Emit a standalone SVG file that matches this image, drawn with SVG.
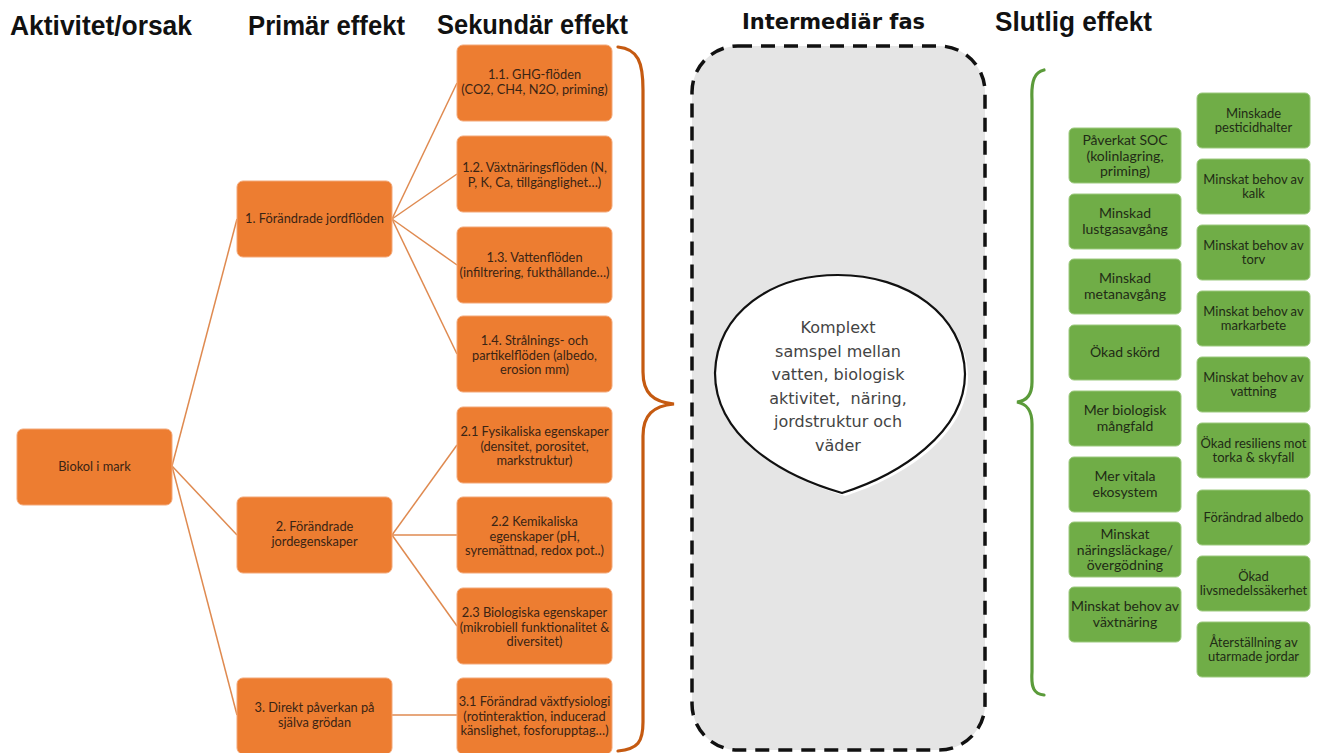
<svg xmlns="http://www.w3.org/2000/svg" width="1321" height="753" viewBox="0 0 1321 753">
  <style>
    .head { font-family: "Liberation Sans", Arial, sans-serif; font-weight: bold; font-size: 27px; fill: #111; }
    .head2 { font-family: "DejaVu Sans", Verdana, sans-serif; font-weight: bold; font-size: 21px; fill: #111; }
    .ob { fill: #ed7d31; stroke: #f3a878; stroke-width: 1; }
    .gb { fill: #70ad47; stroke: #9cc97e; stroke-width: 1; }
    .ot { font-family: Lato, "Open Sans", sans-serif; font-size: 12.8px; fill: #3a2414; text-anchor: middle; }
    .gt { font-family: Lato, "Open Sans", sans-serif; font-size: 14px; fill: #1f2b16; text-anchor: middle; }
    .gt2 { font-family: Lato, "Open Sans", sans-serif; font-size: 13px; fill: #1f2b16; text-anchor: middle; }
    .conn line { stroke: #df8a50; stroke-width: 1.5; }
    .ct { font-family: "DejaVu Sans", Verdana, sans-serif; font-size: 16px; fill: #444; text-anchor: middle; }
  </style>

  <rect width="1321" height="753" fill="#ffffff"/>

  <!-- column headings -->
  <g id="headings">
    <text class="head" x="10" y="35" textLength="182" lengthAdjust="spacingAndGlyphs">Aktivitet/orsak</text>
    <text class="head" x="248" y="35" textLength="157" lengthAdjust="spacingAndGlyphs">Primär effekt</text>
    <text class="head" x="437" y="34" textLength="191" lengthAdjust="spacingAndGlyphs">Sekundär effekt</text>
    <text class="head2" x="742" y="29" textLength="183" lengthAdjust="spacingAndGlyphs">Intermediär fas</text>
    <text class="head" x="995" y="31" textLength="157" lengthAdjust="spacingAndGlyphs">Slutlig effekt</text>
  </g>

  <!-- connectors -->
  <g id="connectors" class="conn">
    <line x1="172" y1="466" x2="237" y2="219"/>
    <line x1="172" y1="466" x2="237" y2="535"/>
    <line x1="172" y1="466" x2="237" y2="715"/>
    <line x1="392" y1="219" x2="457" y2="83"/>
    <line x1="392" y1="219" x2="457" y2="174"/>
    <line x1="392" y1="219" x2="457" y2="265"/>
    <line x1="392" y1="219" x2="457" y2="354"/>
    <line x1="392" y1="535" x2="457" y2="445"/>
    <line x1="392" y1="535" x2="457" y2="535"/>
    <line x1="392" y1="535" x2="457" y2="626"/>
    <line x1="392" y1="715" x2="457" y2="715"/>
  </g>

  <!-- cause -->
  <g id="biokol">
    <rect class="ob" x="17" y="429" width="155" height="76" rx="6"/>
    <text class="ot" x="94.5" y="471">Biokol i mark</text>
  </g>

  <!-- primary effects -->
  <g id="p1">
    <rect class="ob" x="237" y="181" width="155" height="76" rx="6"/>
    <text class="ot" x="314.5" y="223">1. Förändrade jordflöden</text>
  </g>
  <g id="p2">
    <rect class="ob" x="237" y="497" width="155" height="76" rx="6"/>
    <text class="ot" x="314.5" y="531">2. Förändrade</text>
    <text class="ot" x="314.5" y="546">jordegenskaper</text>
  </g>
  <g id="p3">
    <rect class="ob" x="237" y="678" width="155" height="76" rx="6"/>
    <text class="ot" x="314.5" y="712">3. Direkt påverkan på</text>
    <text class="ot" x="314.5" y="727">själva grödan</text>
  </g>

  <!-- secondary effects -->
  <g id="s11">
    <rect class="ob" x="457" y="45" width="155" height="76" rx="6"/>
    <text class="ot" x="534.5" y="79">1.1. GHG-flöden</text>
    <text class="ot" x="534.5" y="94">(CO2, CH4, N2O, priming)</text>
  </g>
  <g id="s12">
    <rect class="ob" x="457" y="136" width="155" height="76" rx="6"/>
    <text class="ot" x="534.5" y="172">1.2. Växtnäringsflöden (N,</text>
    <text class="ot" x="534.5" y="187">P, K, Ca, tillgänglighet…)</text>
  </g>
  <g id="s13">
    <rect class="ob" x="457" y="227" width="155" height="76" rx="6"/>
    <text class="ot" x="534.5" y="262">1.3. Vattenflöden</text>
    <text class="ot" x="534.5" y="277">(infiltrering, fukthållande…)</text>
  </g>
  <g id="s14">
    <rect class="ob" x="457" y="316" width="155" height="76" rx="6"/>
    <text class="ot" x="534.5" y="345">1.4. Strålnings- och</text>
    <text class="ot" x="534.5" y="359.5">partikelflöden (albedo,</text>
    <text class="ot" x="534.5" y="374">erosion mm)</text>
  </g>
  <g id="s21">
    <rect class="ob" x="457" y="407" width="155" height="76" rx="6"/>
    <text class="ot" x="534.5" y="436">2.1 Fysikaliska egenskaper</text>
    <text class="ot" x="534.5" y="450.5">(densitet, porositet,</text>
    <text class="ot" x="534.5" y="465">markstruktur)</text>
  </g>
  <g id="s22">
    <rect class="ob" x="457" y="497" width="155" height="76" rx="6"/>
    <text class="ot" x="534.5" y="526">2.2 Kemikaliska</text>
    <text class="ot" x="534.5" y="540.5">egenskaper (pH,</text>
    <text class="ot" x="534.5" y="555">syremättnad, redox pot..)</text>
  </g>
  <g id="s23">
    <rect class="ob" x="457" y="588" width="155" height="76" rx="6"/>
    <text class="ot" x="534.5" y="617">2.3 Biologiska egenskaper</text>
    <text class="ot" x="534.5" y="631.5">(mikrobiell funktionalitet &amp;</text>
    <text class="ot" x="534.5" y="646">diversitet)</text>
  </g>
  <g id="s31">
    <rect class="ob" x="457" y="678" width="155" height="76" rx="6"/>
    <text class="ot" x="534.5" y="706">3.1 Förändrad växtfysiologi</text>
    <text class="ot" x="534.5" y="720.5">(rotinteraktion, inducerad</text>
    <text class="ot" x="534.5" y="735">känslighet, fosforupptag…)</text>
  </g>

  <!-- brace gathering the secondary effects -->
  <path id="brace-secondary" d="M 618 47 C 638 49 643 62 643 90 L 643 372 C 643 393 653 402 674 404 C 653 406 643 415 643 436 L 643 722 C 643 742 638 749 618 751" fill="none" stroke="#c55a11" stroke-width="3.2" stroke-linecap="round"/>

  <!-- intermediate phase -->
  <g id="intermediate">
    <rect x="692" y="46" width="293" height="704" rx="46" fill="#e5e5e5" stroke="#111" stroke-width="3.5" stroke-dasharray="14 9"/>
    <path d="M 718 376 C 720 315 775 278 841 278 C 910 278 967 318 968 377 C 968 436 902 478 845 496 C 782 478 718 438 718 376 Z" fill="#ffffff"/>
    <path d="M 715 373 C 717 312 772 275 838 275 C 907 275 964 315 965 374 C 965 433 899 475 842 493 C 779 475 715 435 715 373 Z" fill="#ffffff" stroke="#111" stroke-width="2.2"/>
    <text class="ct" x="838" y="333">Komplext</text>
    <text class="ct" x="838" y="356.5">samspel mellan</text>
    <text class="ct" x="838" y="380">vatten, biologisk</text>
    <text class="ct" x="838" y="403.5" xml:space="preserve">aktivitet,  näring,</text>
    <text class="ct" x="838" y="427">jordstruktur och</text>
    <text class="ct" x="838" y="450.5">väder</text>
  </g>

  <!-- brace opening the final effects -->
  <path id="brace-final" d="M 1044 70 C 1035 72 1031 80 1032 100 L 1032 382 C 1032 395 1027 401 1017 402 C 1027 404 1032 410 1032 424 L 1032 672 C 1031 688 1034 694 1044 695" fill="none" stroke="#5b9b3a" stroke-width="3.2" stroke-linecap="round"/>

  <!-- final effects, left column -->
  <g id="f-soc">
    <rect class="gb" x="1069" y="128" width="112" height="55" rx="5"/>
    <text class="gt" x="1125" y="145">Påverkat SOC</text>
    <text class="gt" x="1125" y="160.5">(kolinlagring,</text>
    <text class="gt" x="1125" y="176">priming)</text>
  </g>
  <g id="f-lustgas">
    <rect class="gb" x="1069" y="194" width="112" height="55" rx="5"/>
    <text class="gt" x="1125" y="218">Minskad</text>
    <text class="gt" x="1125" y="233.5">lustgasavgång</text>
  </g>
  <g id="f-metan">
    <rect class="gb" x="1069" y="259" width="112" height="55" rx="5"/>
    <text class="gt" x="1125" y="283">Minskad</text>
    <text class="gt" x="1125" y="298.5">metanavgång</text>
  </g>
  <g id="f-skord">
    <rect class="gb" x="1069" y="325" width="112" height="55" rx="5"/>
    <text class="gt" x="1125" y="357">Ökad skörd</text>
  </g>
  <g id="f-mangfald">
    <rect class="gb" x="1069" y="391" width="112" height="55" rx="5"/>
    <text class="gt" x="1125" y="415">Mer biologisk</text>
    <text class="gt" x="1125" y="430.5">mångfald</text>
  </g>
  <g id="f-ekosystem">
    <rect class="gb" x="1069" y="457" width="112" height="55" rx="5"/>
    <text class="gt" x="1125" y="481">Mer vitala</text>
    <text class="gt" x="1125" y="496.5">ekosystem</text>
  </g>
  <g id="f-lackage">
    <rect class="gb" x="1069" y="522" width="112" height="55" rx="5"/>
    <text class="gt" x="1125" y="539">Minskat</text>
    <text class="gt" x="1125" y="554.5">näringsläckage/</text>
    <text class="gt" x="1125" y="570">övergödning</text>
  </g>
  <g id="f-vaxtnaring">
    <rect class="gb" x="1069" y="587" width="112" height="55" rx="5"/>
    <text class="gt" x="1125" y="611">Minskat behov av</text>
    <text class="gt" x="1125" y="626.5">växtnäring</text>
  </g>

  <!-- final effects, right column -->
  <g id="f-pesticid">
    <rect class="gb" x="1197" y="93" width="113" height="55" rx="5"/>
    <text class="gt2" x="1253.5" y="118">Minskade</text>
    <text class="gt2" x="1253.5" y="132">pesticidhalter</text>
  </g>
  <g id="f-kalk">
    <rect class="gb" x="1197" y="159" width="113" height="55" rx="5"/>
    <text class="gt2" x="1253.5" y="184">Minskat behov av</text>
    <text class="gt2" x="1253.5" y="198">kalk</text>
  </g>
  <g id="f-torv">
    <rect class="gb" x="1197" y="225" width="113" height="55" rx="5"/>
    <text class="gt2" x="1253.5" y="250">Minskat behov av</text>
    <text class="gt2" x="1253.5" y="264">torv</text>
  </g>
  <g id="f-markarbete">
    <rect class="gb" x="1197" y="291" width="113" height="55" rx="5"/>
    <text class="gt2" x="1253.5" y="316">Minskat behov av</text>
    <text class="gt2" x="1253.5" y="330">markarbete</text>
  </g>
  <g id="f-vattning">
    <rect class="gb" x="1197" y="357" width="113" height="55" rx="5"/>
    <text class="gt2" x="1253.5" y="382">Minskat behov av</text>
    <text class="gt2" x="1253.5" y="396">vattning</text>
  </g>
  <g id="f-resiliens">
    <rect class="gb" x="1197" y="423" width="113" height="55" rx="5"/>
    <text class="gt2" x="1253.5" y="448">Ökad resiliens mot</text>
    <text class="gt2" x="1253.5" y="462">torka &amp; skyfall</text>
  </g>
  <g id="f-albedo">
    <rect class="gb" x="1197" y="490" width="113" height="55" rx="5"/>
    <text class="gt2" x="1253.5" y="522">Förändrad albedo</text>
  </g>
  <g id="f-livsmedel">
    <rect class="gb" x="1197" y="556" width="113" height="55" rx="5"/>
    <text class="gt2" x="1253.5" y="581">Ökad</text>
    <text class="gt2" x="1253.5" y="595">livsmedelssäkerhet</text>
  </g>
  <g id="f-aterstallning">
    <rect class="gb" x="1197" y="622" width="113" height="55" rx="5"/>
    <text class="gt2" x="1253.5" y="647">Återställning av</text>
    <text class="gt2" x="1253.5" y="661">utarmade jordar</text>
  </g>
</svg>
